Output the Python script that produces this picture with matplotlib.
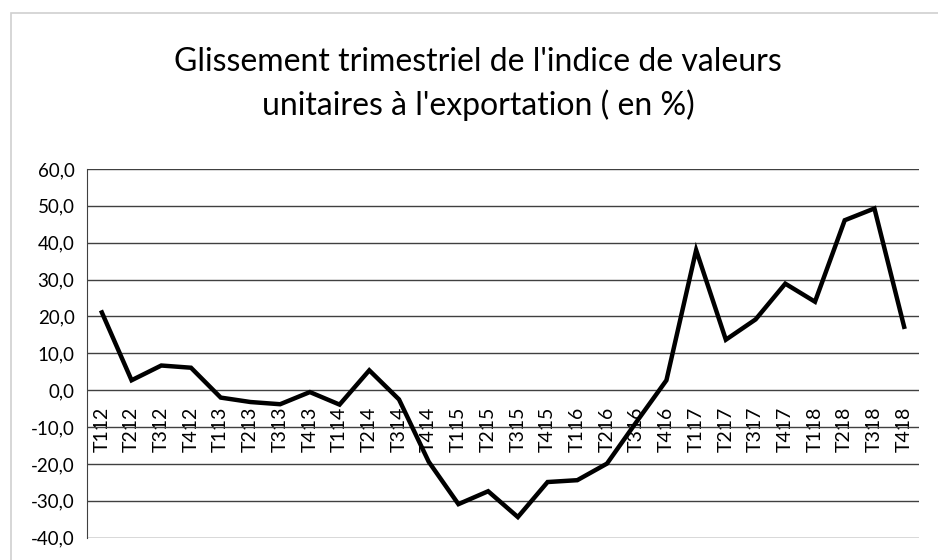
import matplotlib.pyplot as plt
from matplotlib.patches import Rectangle
from matplotlib.ticker import FuncFormatter

# Quarter labels and values (in %)
quarters = ["T112", "T212", "T312", "T412", "T113", "T213", "T313", "T413",
            "T114", "T214", "T314", "T414", "T115", "T215", "T315", "T415",
            "T116", "T216", "T316", "T416", "T117", "T217", "T317", "T417",
            "T118", "T218", "T318", "T418"]
values = [21.1, 2.7, 6.7, 6.1, -2.0, -3.2, -3.8, -0.5,
          -3.9, 5.4, -2.5, -19.4, -30.9, -27.4, -34.4, -24.9,
          -24.4, -19.9, -8.5, 2.7, 38.0, 13.7, 19.2, 28.9,
          24.0, 46.1, 49.3, 17.2]
yticks = [-40, -30, -20, -10, 0, 10, 20, 30, 40, 50, 60]

title = "Glissement trimestriel de l'indice de valeurs\nunitaires à l'exportation ( en %)"

plt.rcParams["font.family"] = ["Lato", "DejaVu Sans"]

fig = plt.figure(figsize=(9.38, 5.6), dpi=100)

# light grey chart frame
fig.patches.append(Rectangle((11 / 938, -0.05), 1.1, 1 - 13 / 560 + 0.05,
                             transform=fig.transFigure, fill=False,
                             edgecolor="#d0d0d0", linewidth=1.2))

ax = fig.add_axes([87 / 938, 1 - 537.7 / 560, (919 - 87) / 938, (537.7 - 169) / 560])

# horizontal axis crosses at 0 (set before tick labels, it resets ticks)
ax.spines["bottom"].set_position(("data", 0))
ax.spines["bottom"].set_visible(False)
ax.spines["top"].set_visible(False)
ax.spines["right"].set_visible(False)
ax.spines["left"].set_color("#404040")

x = list(range(len(quarters)))
ax.plot(x, values, color="black", linewidth=3.2, solid_joinstyle="miter", zorder=3)

ax.set_xlim(-0.5, len(quarters) - 0.5)
ax.set_ylim(-40, 60)
ax.set_yticks(yticks)
ax.yaxis.set_major_formatter(FuncFormatter(lambda v, p: f"{v:.1f}".replace(".", ",")))
ax.grid(axis="y", color="#404040", linewidth=1.0)
ax.set_axisbelow(True)

ax.set_xticks(x)
ax.set_xticklabels(quarters, rotation=90, va="top", ha="center")

ax.tick_params(axis="x", length=0, pad=12, labelsize=14)
ax.tick_params(axis="y", length=0, pad=9, labelsize=13.5)

fig.text(478 / 938, 1 - 84 / 560, title, ha="center", va="center",
         fontsize=23, linespacing=1.45)

fig.savefig("out.png", dpi=100)
